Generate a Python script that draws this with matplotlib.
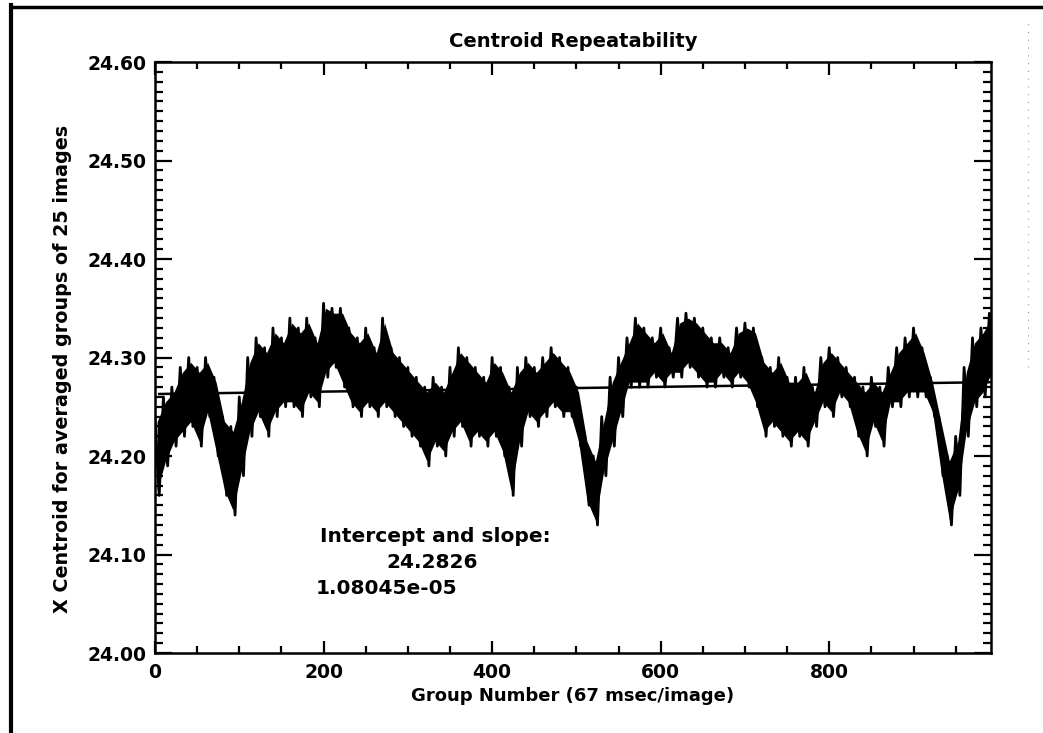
import numpy as np
import matplotlib
matplotlib.use('Agg')
import matplotlib.pyplot as plt
from matplotlib.lines import Line2D
from matplotlib.ticker import MultipleLocator

# values, one pair per 10 groups (top of swing, bottom of swing)
upper_vals = [24.24, 24.26, 24.27, 24.29, 24.30, 24.29, 24.30, 24.28, 24.24, 24.23,
              24.26, 24.30, 24.32, 24.31, 24.33, 24.32, 24.34, 24.33, 24.34, 24.32,
              24.355, 24.35, 24.35, 24.33, 24.32, 24.33, 24.31, 24.34, 24.31, 24.30,
              24.29, 24.28, 24.27, 24.28, 24.27, 24.29, 24.31, 24.30, 24.29, 24.28,
              24.30, 24.29, 24.27, 24.29, 24.30, 24.29, 24.30, 24.31, 24.30, 24.29,
              24.27, 24.22, 24.20, 24.24, 24.28, 24.30, 24.32, 24.34, 24.33, 24.32,
              24.33, 24.31, 24.34, 24.345, 24.34, 24.33, 24.32, 24.32, 24.31, 24.33,
              24.335, 24.33, 24.30, 24.29, 24.30, 24.28, 24.28, 24.29, 24.27, 24.30,
              24.31, 24.30, 24.29, 24.28, 24.27, 24.28, 24.27, 24.29, 24.31, 24.32,
              24.33, 24.31, 24.28, 24.24, 24.20, 24.22, 24.29, 24.32, 24.33, 24.345]
lower_vals = [24.16, 24.19, 24.21, 24.22, 24.23, 24.21, 24.24, 24.20, 24.16, 24.14,
              24.18, 24.22, 24.24, 24.22, 24.24, 24.25, 24.25, 24.24, 24.26, 24.25,
              24.28, 24.29, 24.27, 24.25, 24.24, 24.25, 24.24, 24.25, 24.24, 24.23,
              24.22, 24.21, 24.19, 24.21, 24.20, 24.22, 24.23, 24.21, 24.22, 24.21,
              24.22, 24.20, 24.16, 24.21, 24.24, 24.23, 24.24, 24.25, 24.24, 24.24,
              24.21, 24.15, 24.13, 24.18, 24.21, 24.24, 24.27, 24.27, 24.27, 24.28,
              24.27, 24.28, 24.28, 24.29, 24.28, 24.27, 24.27, 24.28, 24.27, 24.28,
              24.27, 24.25, 24.22, 24.23, 24.22, 24.21, 24.22, 24.21, 24.23, 24.25,
              24.24, 24.26, 24.25, 24.22, 24.20, 24.23, 24.21, 24.25, 24.25, 24.26,
              24.26, 24.26, 24.24, 24.18, 24.13, 24.16, 24.22, 24.25, 24.26, 24.28]

# fitted line as drawn (ends)
fit_x = [5, 992]
fit_y = [24.263, 24.275]

fit_intercept = '24.2826'
fit_slope = '1.08045e-05'

bins = np.arange(len(upper_vals)) * 10
centroid = np.column_stack([upper_vals, lower_vals]).ravel()
group = np.arange(len(centroid)) * 5

plt.rcParams['font.family'] = ['DejaVu Sans']
plt.rcParams['font.weight'] = 'bold'

fig = plt.figure(figsize=(10.43, 7.33), dpi=100)
ax = fig.add_axes([0.1486, 0.1091, 0.8016, 0.8063])

# dense trace: solid core plus the jagged swings
ax.fill_between(bins + 2.5, np.array(lower_vals) + 0.005, np.array(upper_vals) - 0.005,
                color='black', lw=0)
ax.plot(group, centroid, color='black', lw=2.0)
ax.plot(fit_x, fit_y, color='black', lw=1.8)

ax.set_xlim(0, 992)
ax.set_ylim(24.0, 24.6)
ax.xaxis.set_major_locator(MultipleLocator(200))
ax.xaxis.set_minor_locator(MultipleLocator(50))
ax.yaxis.set_major_locator(MultipleLocator(0.1))
ax.yaxis.set_minor_locator(MultipleLocator(0.01))
ax.yaxis.set_major_formatter(matplotlib.ticker.FormatStrFormatter('%.2f'))

ax.tick_params(which='both', direction='in', top=True, right=True, width=1.6,
               labelsize=13.5, colors='black')
ax.tick_params(axis='y', which='major', length=12, pad=6)
ax.tick_params(axis='y', which='minor', length=6)
ax.tick_params(axis='x', which='major', length=9, pad=7)
ax.tick_params(axis='x', which='minor', length=5)
for s in ax.spines.values():
    s.set_linewidth(1.8)

ax.set_title('Centroid Repeatability', fontsize=14, fontweight='bold', pad=11)
ax.set_xlabel('Group Number (67 msec/image)', fontsize=13, fontweight='bold')
ax.set_ylabel('X Centroid for averaged groups of 25 images', fontsize=13.8, fontweight='bold')
ax.xaxis.set_label_coords(0.5, -0.058)
ax.yaxis.set_label_coords(-0.099, 0.48)

ax.text(196, 24.118, 'Intercept and slope:', fontsize=14.5, fontweight='bold', va='center')
ax.text(329, 24.092, fit_intercept, fontsize=14.5, fontweight='bold', va='center', ha='center')
ax.text(191, 24.066, fit_slope, fontsize=14.5, fontweight='bold', va='center')

# scan border
fig.add_artist(Line2D([0.0105, 0.0105], [0.0, 0.993], transform=fig.transFigure,
                      color='black', lw=3))
fig.add_artist(Line2D([0.0105, 1.0], [0.991, 0.991], transform=fig.transFigure,
                      color='black', lw=2.5))
fig.add_artist(Line2D([0.986, 0.986], [0.5, 0.975], transform=fig.transFigure,
                      color='0.6', lw=0.8, ls=(0, (1, 6))))

plt.savefig('out.png', dpi=100)
